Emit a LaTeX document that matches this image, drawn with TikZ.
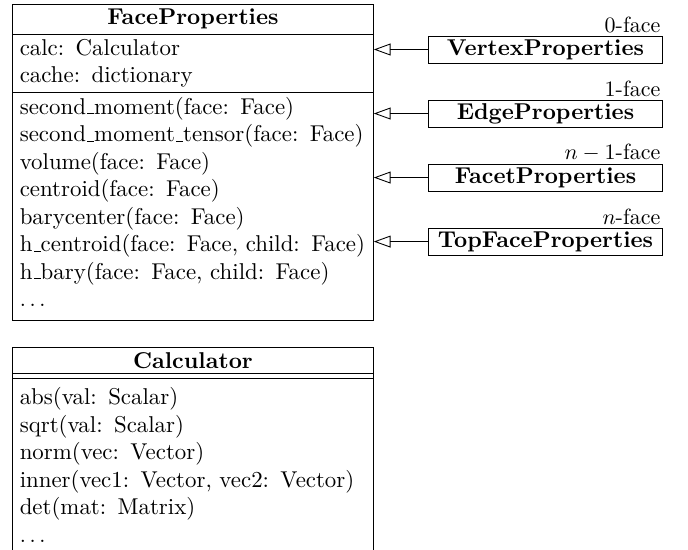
\documentclass[tikz,border=0pt]{standalone}
\usepackage{amsmath}
\usetikzlibrary{shapes.multipart,arrows.meta,positioning}
\newcommand{\usc}{\leavevmode\kern.06em\vbox{\hrule width.3em}}
\tikzset{
    umlclass/.style={draw,rectangle split,rectangle split parts=3,anchor=north west,
        font=\fontsize{10.4}{12.5}\selectfont,
        text width=157.4pt,inner xsep=3.33pt,inner ysep=2pt},
    subclass/.style={draw,font=\fontsize{10.4}{12.5}\selectfont\bfseries,text width=104.4pt,align=center,
        inner sep=1pt,minimum height=12.3pt,anchor=west},
    dimtag/.style={anchor=south east,inner sep=1pt,font=\normalfont},
    inherit/.style={-{Triangle[open,length=7.6pt,width=5.4pt]}}
}

\begin{document}
\begin{tikzpicture}[x=0.4545pt,y=-0.4545pt]
    \useasboundingbox (0,0) rectangle (688,550);
    \clip (0,0) rectangle (688,550);
    \node [umlclass] (faceprops) at (12,4) {
        \centering\textbf{FaceProperties}\par
        \nodepart{second}
        calc: Calculator\\
        cache: dictionary
        \nodepart{third}
        second\usc moment(face: Face)\\
        second\usc moment\usc tensor(face: Face)\\
        volume(face: Face)\\
        centroid(face: Face)\\
        barycenter(face: Face)\\
        h\usc centroid(face: Face, child: Face)\\
        h\usc bary(face: Face, child: Face)\\
        $\ldots$\rule[-4pt]{0pt}{0pt}
    };
    \node [subclass,label={[dimtag]north east:0-face}] (vertexprops) at (428,49.5) {VertexProperties};
    \node [subclass,label={[dimtag]north east:1-face},below=16.4pt of vertexprops] (edgeprops) {EdgeProperties};
    \node [subclass,label={[dimtag]north east:$n-1$-face},below=16.4pt of edgeprops] (facetprops) {FacetProperties};
    \node [subclass,label={[dimtag]north east:$n$-face},below=16.4pt of facetprops] (topprops) {TopFaceProperties};
    \foreach \sub in {vertexprops,edgeprops,facetprops,topprops} {
        \draw [inherit] (\sub) -- (\sub -| faceprops.east);
    }
    \node [umlclass,rectangle split parts=2] (calculator) at (12,347) {
        \centering\textbf{Calculator}\par
        \nodepart{second}
        \rule{0pt}{12pt}abs(val: Scalar)\\
        sqrt(val: Scalar)\\
        norm(vec: Vector)\\
        inner(vec1: Vector, vec2: Vector)\\
        det(mat: Matrix)\\
        $\ldots$\rule[-12pt]{0pt}{0pt}
    };
    \draw ([yshift=-2.2pt]calculator.one split west) -- ([yshift=-2.2pt]calculator.one split east);
\end{tikzpicture}
\end{document}
